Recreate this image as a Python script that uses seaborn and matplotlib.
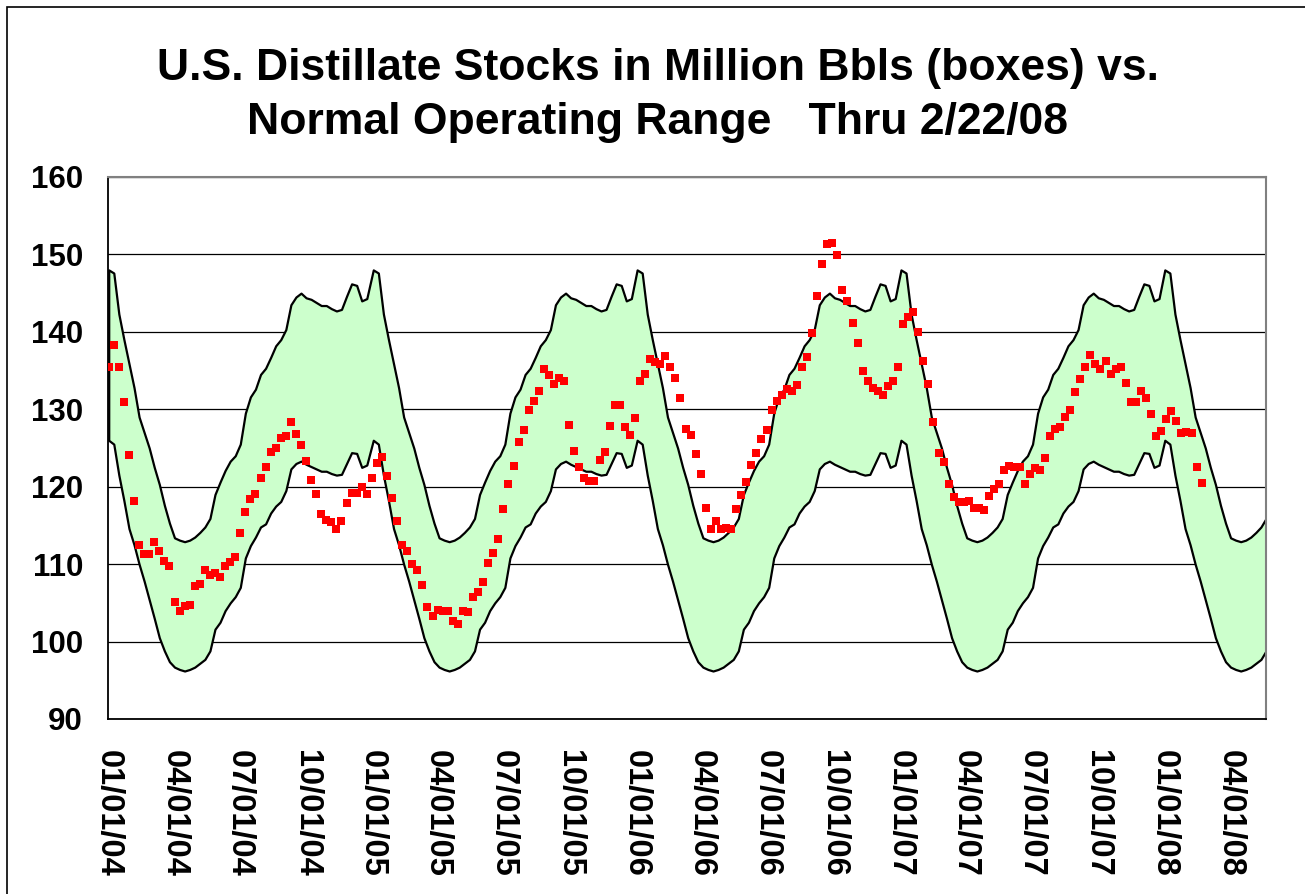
import numpy as np
import pandas as pd
import seaborn as sns
import matplotlib.pyplot as plt
from matplotlib.patches import Rectangle

# weekly distillate stocks (million bbls), first report 01/02/04, last 2/22/08
stocks = [
    135.5, 138.3, 135.5, 131.0, 124.1, 118.2, 112.5, 111.3, 111.3, 112.8,
    111.7, 110.4, 109.7, 105.1, 103.9, 104.6, 104.7, 107.2, 107.4, 109.2,
    108.6, 108.9, 108.3, 109.7, 110.3, 110.9, 114.0, 116.7, 118.4, 119.1,
    121.1, 122.5, 124.5, 125.0, 126.3, 126.6, 128.3,
    126.8, 125.4, 123.3, 120.9, 119.0, 116.5, 115.7, 115.5, 114.5, 115.6,
    117.9, 119.2, 119.2, 119.9, 119.1, 121.1, 123.0, 123.8, 121.4, 118.6,
    115.6, 112.5, 111.7, 110.0, 109.2, 107.3, 104.5, 103.3, 104.1, 103.9,
    103.9, 102.6, 102.3, 103.9, 103.8, 105.7,
    106.4, 107.7, 110.2, 111.5, 113.2, 117.1, 120.4, 122.7, 125.8, 127.3,
    129.9, 131.1, 132.4, 135.2, 134.4, 133.3, 134.1, 133.6, 128.0, 124.6,
    122.6, 121.1, 120.8, 120.7, 123.4, 124.5, 127.9, 130.6, 130.5, 127.7,
    126.7, 128.9, 133.7, 134.6, 136.5, 136.1,
    135.9, 136.9, 135.5, 134.0, 131.4, 127.5, 126.7, 124.2, 121.6, 117.3,
    114.6, 115.6, 114.5, 114.7, 114.6, 117.1, 118.9, 120.6, 122.8, 124.4,
    126.2, 127.3, 129.9, 131.1, 131.9, 132.6, 132.4, 133.2, 135.5, 136.8,
    139.9, 144.6, 148.7, 151.3, 151.5, 149.9, 145.4, 144.0,
    141.2, 138.6, 134.9, 133.7, 132.8, 132.4, 131.8, 133.0, 133.6, 135.5,
    141.0, 141.9, 142.6, 140.0, 136.3, 133.3, 128.3, 124.4, 123.2, 120.4,
    118.7, 118.0, 118.0, 118.2, 117.3, 117.2, 117.0, 118.8, 119.7, 120.3,
    122.2, 122.7, 122.6, 122.6, 120.4, 121.6,
    122.4, 122.2, 123.7, 126.5, 127.5, 127.7, 129.0, 129.9, 132.2, 133.9,
    135.5, 137.0, 135.9, 135.2, 136.2, 134.5, 135.2, 135.4, 133.4, 131.0,
    130.9, 132.3, 131.5, 129.4, 126.5, 127.2, 128.7, 129.8, 128.5, 127.0,
    127.1, 127.0, 122.5, 120.5,
]

# normal operating range, seasonal profile by week of year (same every year)
range_upper = [
    148.0, 147.6, 142.3, 139.0, 135.9, 132.8, 129.0, 127.0, 125.0, 122.5,
    120.3, 117.6, 115.3, 113.4, 113.1, 112.9, 113.1, 113.5, 114.1, 114.8,
    115.9, 119.0, 120.6, 122.1, 123.3, 124.0, 125.5, 129.5, 131.6, 132.6,
    134.5, 135.3, 136.7, 138.2, 139.0, 140.3, 143.5, 144.5, 145.0, 144.4,
    144.2, 143.8, 143.4, 143.4, 143.0, 142.7, 142.9, 144.6, 146.2, 146.0,
    144.0, 144.3,
]
range_lower = [
    126.0, 125.5, 121.5, 118.2, 114.6, 112.5, 110.0, 107.8, 105.4, 103.0,
    100.5, 98.8, 97.4, 96.7, 96.4, 96.2, 96.4, 96.7, 97.2, 97.7,
    98.8, 101.6, 102.5, 104.0, 105.0, 105.8, 107.0, 110.8, 112.4, 113.5,
    114.8, 115.2, 116.6, 117.5, 118.1, 119.5, 122.3, 123.0, 123.3, 122.9,
    122.6, 122.3, 122.0, 122.0, 121.7, 121.5, 121.6, 123.0, 124.4, 124.3,
    122.5, 122.8,
]
range_years = [2004, 2005, 2006, 2007, 2008]
weeks_shown_2008 = 21

tick_dates = pd.date_range('2004-01-01', '2008-04-01', freq='QS')
tick_labels = [d.strftime('%m/%d/%y') for d in tick_dates]

df_stocks = pd.DataFrame({
    'date': pd.date_range('2004-01-02', periods=len(stocks), freq='7D'),
    'stocks': stocks,
})

band_parts = []
for yr in range_years:
    n = weeks_shown_2008 if yr == 2008 else len(range_upper)
    band_parts.append(pd.DataFrame({
        'date': pd.date_range('{}-01-02'.format(yr), periods=n, freq='7D'),
        'upper': range_upper[:n],
        'lower': range_lower[:n],
    }))
df_band = pd.concat(band_parts, ignore_index=True)

sns.set_style('white')
plt.rcParams['font.family'] = ['Liberation Sans', 'DejaVu Sans']
plt.rcParams['font.weight'] = 'bold'
plt.rcParams['text.color'] = 'black'
plt.rcParams['xtick.color'] = 'black'
plt.rcParams['ytick.color'] = 'black'

fig = plt.figure(figsize=(13.05, 8.94), dpi=100)
ax = fig.add_axes([108 / 1305, 1 - 719 / 894, (1266 - 108) / 1305, (719 - 177) / 894])

ax.fill_between(df_band['date'], df_band['lower'], df_band['upper'],
                facecolor='#CCFFCC', edgecolor='black', linewidth=1.6, zorder=2)
sns.scatterplot(ax=ax, data=df_stocks, x='date', y='stocks', marker='s', s=34,
                color='#FF0000', linewidth=0, zorder=3, legend=False)

ax.set_xlim(pd.Timestamp('2004-01-01'), df_band['date'].iloc[-1])
ax.set_ylim(90, 160)
ax.set_yticks(range(90, 161, 10))
ax.set_xticks(tick_dates)
ax.set_xticklabels(tick_labels, rotation=-90, ha='center', va='top')
ax.set_xlabel('')
ax.set_ylabel('')

ax.set_axisbelow(True)
ax.yaxis.grid(True, color='black', linewidth=0.9)
ax.xaxis.grid(False)

for side in ['left', 'bottom']:
    ax.spines[side].set_color('black')
    ax.spines[side].set_linewidth(1.3)
for side in ['top', 'right']:
    ax.spines[side].set_color('#808080')
    ax.spines[side].set_linewidth(1.5)

ax.tick_params(axis='y', direction='out', length=7, width=1, colors='black',
               pad=11, labelsize=22.5)
ax.tick_params(axis='x', direction='out', length=8, width=1, colors='black',
               pad=14, labelsize=23.5)
for lbl in ax.get_xticklabels() + ax.get_yticklabels():
    lbl.set_fontweight('bold')

fig.text(0.504, 1 - 80 / 894, 'U.S. Distillate Stocks in Million Bbls (boxes) vs.',
         ha='center', va='baseline', fontsize=32, fontweight='bold', color='black')
fig.text(0.504, 1 - 134 / 894, 'Normal Operating Range   Thru 2/22/08',
         ha='center', va='baseline', fontsize=32, fontweight='bold', color='black')

fig.add_artist(Rectangle((7 / 1305, -0.5), 2, 1.5 - 7 / 894, transform=fig.transFigure,
                         fill=False, edgecolor='black', linewidth=1.2))

plt.savefig('out.png', dpi=100)
